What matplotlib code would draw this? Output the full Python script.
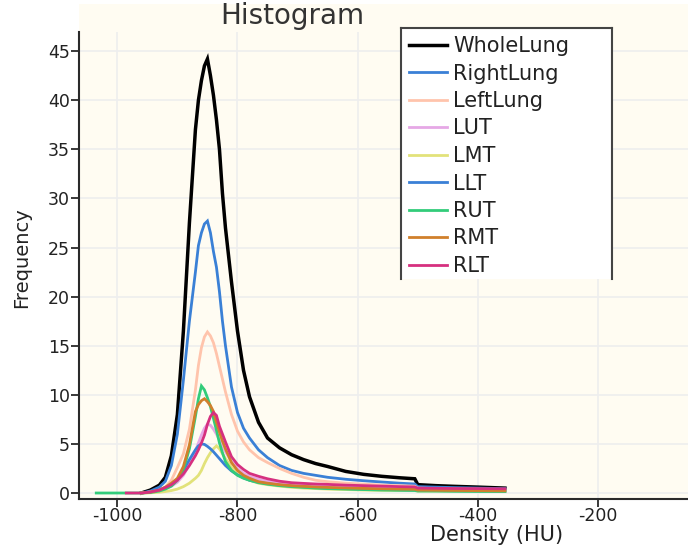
import numpy as np
import matplotlib
matplotlib.use("Agg")
import matplotlib.pyplot as plt
from matplotlib.lines import Line2D
from matplotlib.patches import Rectangle

plt.rcParams['font.family'] = ['DejaVu Sans']
plt.rcParams['axes.unicode_minus'] = False

# density bins (HU) shared by all regions
hu = [-1035, -985, -960, -945, -930, -920, -910, -900, -890, -880, -870, -865,
      -860, -855, -850, -845, -840, -835, -830, -825, -820, -810, -800, -790,
      -780, -765, -750, -730, -710, -690, -670, -650, -620, -590, -560, -530,
      -505, -500, -470, -440, -400, -355]

nan = np.nan
whole_lung = [nan, nan, 0, 0.3, 0.8, 1.6, 3.8, 8.0, 16.5, 27.5, 37, 40, 42, 43.5,
              44.2, 42.5, 40.5, 38, 35, 30.5, 27, 21.5, 16.5, 12.5, 9.8, 7.2,
              5.6, 4.6, 3.9, 3.4, 3.0, 2.7, 2.2, 1.9, 1.7, 1.55, 1.45, 0.85,
              0.75, 0.68, 0.6, 0.5]
right_lung = [nan, nan, 0, 0.2, 0.6, 1.2, 2.8, 6.0, 11.5, 17.5, 22.5, 25.2, 26.5,
              27.4, 27.7, 26.5, 24.6, 23, 20.5, 17.5, 15, 10.8, 8.2, 6.6, 5.6,
              4.4, 3.6, 2.8, 2.3, 2.0, 1.8, 1.6, 1.4, 1.25, 1.12, 1.0, 0.92,
              0.65, 0.6, 0.55, 0.5, 0.44]
left_lung = [nan, nan, 0, 0.1, 0.3, 0.6, 1.3, 2.6, 4.0, 6.5, 10.5, 13, 14.8, 15.9,
             16.4, 16.0, 15.3, 14.2, 12.9, 11.6, 10.3, 8.0, 6.3, 5.2, 4.4, 3.6,
             3.1, 2.5, 2.0, 1.6, 1.3, 1.15, 1.0, 0.9, 0.8, 0.75, 0.7, 0.5,
             0.45, 0.42, 0.38, 0.35]
lut = [nan, nan, 0, 0.1, 0.25, 0.45, 0.7, 1.1, 1.8, 2.9, 4.3, 5.1, 5.9, 6.6, 7.0,
       6.9, 6.5, 6.0, 5.4, 4.8, 4.2, 3.2, 2.5, 2.0, 1.7, 1.4, 1.2, 1.0, 0.88,
       0.8, 0.72, 0.66, 0.58, 0.52, 0.47, 0.43, 0.4, 0.33, 0.31, 0.3, 0.28,
       0.27]
lmt = [nan, nan, 0, 0.02, 0.08, 0.15, 0.25, 0.4, 0.65, 1.0, 1.5, 1.8, 2.3, 3.0,
       3.6, 4.1, 4.5, 4.8, 4.5, 4.0, 3.5, 2.6, 2.0, 1.6, 1.3, 1.0, 0.85, 0.7,
       0.58, 0.5, 0.45, 0.4, 0.35, 0.3, 0.27, 0.25, 0.24, 0.2, 0.19, 0.18,
       0.17, 0.16]
llt = [nan, nan, 0, 0.1, 0.3, 0.55, 0.85, 1.4, 2.3, 3.4, 4.4, 4.8, 5.0, 4.95,
       4.75, 4.5, 4.2, 3.85, 3.5, 3.15, 2.8, 2.25, 1.85, 1.55, 1.3, 1.1, 0.95,
       0.8, 0.7, 0.62, 0.56, 0.5, 0.45, 0.4, 0.36, 0.33, 0.31, 0.25, 0.24,
       0.23, 0.22, 0.2]
rut = [0, 0, 0, 0.05, 0.2, 0.4, 0.7, 1.3, 2.4, 4.5, 7.8, 9.6, 10.9, 10.5, 9.7,
       8.8, 7.6, 6.4, 5.1, 4.1, 3.2, 2.3, 1.8, 1.5, 1.3, 1.05, 0.9, 0.75, 0.65,
       0.58, 0.5, 0.45, 0.4, 0.35, 0.3, 0.28, 0.26, 0.2, 0.2, 0.18, 0.16, 0.15]
rmt = [nan, nan, 0, 0.1, 0.3, 0.6, 1.0, 1.5, 2.7, 4.9, 8.3, 9.0, 9.4, 9.6, 9.3,
       8.9, 8.3, 7.2, 6.2, 5.3, 4.5, 3.1, 2.3, 1.8, 1.5, 1.15, 1.0, 0.85, 0.75,
       0.68, 0.62, 0.57, 0.52, 0.47, 0.43, 0.4, 0.38, 0.3, 0.28, 0.26, 0.24,
       0.22]
rlt = [nan, 0, 0, 0.1, 0.3, 0.55, 0.85, 1.3, 1.95, 2.8, 3.8, 4.4, 5.1, 5.9, 7.0,
       7.8, 8.2, 7.9, 6.8, 6.0, 5.2, 3.7, 2.9, 2.4, 2.0, 1.7, 1.45, 1.2, 1.05,
       0.98, 0.92, 0.88, 0.8, 0.75, 0.7, 0.65, 0.62, 0.5, 0.48, 0.46, 0.45,
       0.43]

names = ['WholeLung', 'RightLung', 'LeftLung', 'LUT', 'LMT', 'LLT', 'RUT', 'RMT', 'RLT']
series = [whole_lung, right_lung, left_lung, lut, lmt, llt, rut, rmt, rlt]
colors = ['#000000', '#3a80d6', '#ffc4ac', '#e6a8e6', '#e2e27a', '#3a80d6',
          '#32cc7a', '#d0802c', '#d6307f']

x_ticks = [-1000, -800, -600, -400, -200]
y_ticks = [0, 5, 10, 15, 20, 25, 30, 35, 40, 45]

fig = plt.figure(figsize=(6.88, 5.53), dpi=100)
fig.patch.set_facecolor('white')
ax = fig.add_axes([79 / 688, 54 / 553, 609 / 688, 495 / 553])
ax.set_facecolor('#fffcf2')
ax.set_xlim(-1063.7, -50.4)
ax.set_ylim(-0.61, 49.8)

# grid stops short of the title strip
grid_top = 46.94
ax.vlines(x_ticks, -0.61, grid_top, colors='#eeeeee', linewidth=1.2, zorder=0)
ax.hlines(y_ticks, -1063.7, -50.4, colors='#eeeeee', linewidth=1.2, zorder=0)

handles = []
for name, vals, col in zip(names, series, colors):
    lw = 2.5 if name == 'WholeLung' else 2.0
    ln, = ax.plot(hu, vals, color=col, linewidth=lw, label=name,
                  solid_joinstyle='miter')
    handles.append(ln)

for side in ['top', 'right']:
    ax.spines[side].set_visible(False)
for side in ['left', 'bottom']:
    ax.spines[side].set_color('#2a2a2a')
    ax.spines[side].set_linewidth(1.5)
ax.spines['left'].set_bounds(-0.61, grid_top)

ax.set_xticks(x_ticks)
ax.set_yticks(y_ticks)
ax.tick_params(axis='both', labelsize=12.5, color='#2a2a2a', width=1.3,
               labelcolor='#222222')
ax.tick_params(axis='x', length=6, pad=0)
ax.tick_params(axis='y', length=5.5, pad=1)

ax.set_xlabel('Density (HU)', fontsize=15, color='#222222')
ax.xaxis.label.set_va('center')
ax.xaxis.set_label_coords(0.686, -0.0727)
ax.set_ylabel('Frequency', fontsize=14, color='#222222')
ax.yaxis.label.set_va('center')
ax.yaxis.set_label_coords(-0.094, 0.487)

fig.text(292.5 / 688, 1 - 24 / 553, 'Histogram', ha='center', va='baseline',
         fontsize=20, color='#333333')

# legend panel: white box open at the bottom
bx0, bx1, by0, by1 = 400.5 / 688, 612 / 688, 1 - 279 / 553, 1 - 28 / 553
fig.patches.append(Rectangle((bx0, by0), bx1 - bx0, by1 - by0,
                             transform=fig.transFigure, facecolor='white',
                             edgecolor='none', zorder=5))
for xs, ys in [([bx0, bx0], [by0, by1]), ([bx0, bx1], [by1, by1]),
               ([bx1, bx1], [by1, by0])]:
    fig.lines.append(Line2D(xs, ys, transform=fig.transFigure, color='#444444',
                            linewidth=1.5, zorder=6))

leg = fig.legend(handles=handles, loc='upper left',
                 bbox_to_anchor=(409 / 688, 1 - 36 / 553), frameon=False,
                 fontsize=15, handlelength=1.83, handletextpad=0.3,
                 labelspacing=0.36, borderpad=0, borderaxespad=0)
leg.set_zorder(7)
for t in leg.get_texts():
    t.set_color('#222222')

fig.savefig('out.png', dpi=100, facecolor='white')
